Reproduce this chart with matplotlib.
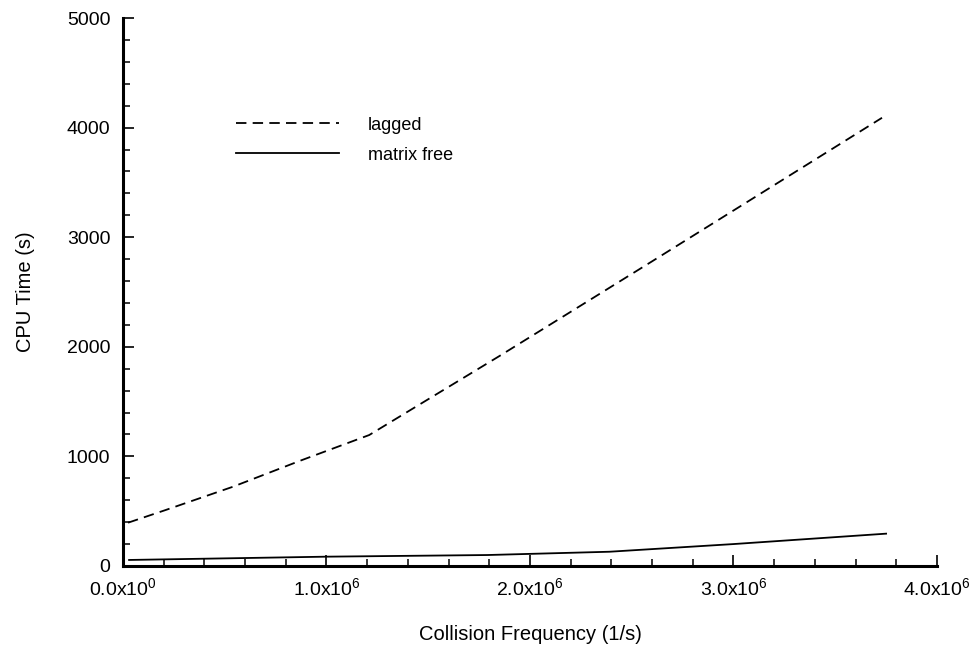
import matplotlib
matplotlib.use("Agg")
import matplotlib.pyplot as plt
from matplotlib.ticker import MultipleLocator, FixedLocator

plt.rcParams['font.family'] = ['Liberation Sans', 'DejaVu Sans']
plt.rcParams['mathtext.fontset'] = 'custom'
plt.rcParams['mathtext.rm'] = 'Liberation Sans'
plt.rcParams['mathtext.it'] = 'Liberation Sans'
plt.rcParams['lines.scale_dashes'] = False

# Collision frequency (1/s) and CPU time (s) for the two solvers
lagged_freq = [0.025e6, 0.21e6, 0.54e6, 0.87e6, 1.21e6, 1.85e6, 2.6e6, 3.73e6]
lagged_time = [395, 511, 723, 960, 1195, 1916, 2780, 4090]

mfree_freq = [0.03e6, 1.0e6, 1.79e6, 2.39e6, 3.0e6, 3.75e6]
mfree_time = [55, 85, 100, 130, 200, 295]

x_ticks = [0, 1e6, 2e6, 3e6, 4e6]
x_tick_labels = [r'0.0x10$^{0}$', r'1.0x10$^{6}$', r'2.0x10$^{6}$',
                 r'3.0x10$^{6}$', r'4.0x10$^{6}$']

fig = plt.figure(figsize=(9.76, 6.45), dpi=100)
ax = fig.add_axes([0.126, 0.1225, 0.834, 0.8495])

ax.plot(lagged_freq, lagged_time, color='black', lw=1.3,
        dashes=(7.5, 4.5), label='lagged')
ax.plot(mfree_freq, mfree_time, color='black', lw=1.3, label='matrix free')

ax.set_xlim(0, 4e6)
ax.set_ylim(0, 5000)

ax.xaxis.set_major_locator(FixedLocator(x_ticks))
ax.set_xticklabels(x_tick_labels)
ax.xaxis.set_minor_locator(MultipleLocator(2e5))
ax.yaxis.set_major_locator(MultipleLocator(1000))
ax.yaxis.set_minor_locator(MultipleLocator(200))

# only the left and bottom axes lines, ticks pointing inward
for side in ['top', 'right']:
    ax.spines[side].set_visible(False)
for side in ['left', 'bottom']:
    ax.spines[side].set_linewidth(2.2)
ax.tick_params(which='major', direction='in', length=8, width=1.2,
               labelsize=14)
ax.tick_params(which='minor', direction='in', length=5, width=1.1)
ax.tick_params(axis='y', which='major', pad=9)
ax.tick_params(axis='x', which='major', pad=8)

ax.set_xlabel('Collision Frequency (1/s)', fontsize=14.5, labelpad=19)
ax.set_ylabel('CPU Time (s)', fontsize=14.5, labelpad=23)

ax.legend(loc='upper left', bbox_to_anchor=(0.139, 0.82), frameon=False,
          borderpad=0, borderaxespad=0, handlelength=5.7, handletextpad=1.6,
          labelspacing=0.72, fontsize=13)

plt.savefig('out.png', dpi=100)
